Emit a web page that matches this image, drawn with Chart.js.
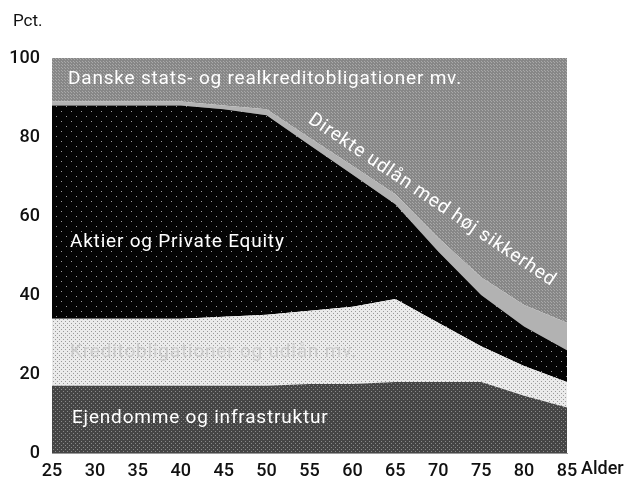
<!DOCTYPE html>
<html>
<head>
<meta charset="utf-8">
<script src="https://cdn.jsdelivr.net/npm/chart.js@4"></script>
<style>
  html, body { margin: 0; padding: 0; background: #fff; }
  #wrap { width: 641px; height: 485px; }
</style>
</head>
<body>
<div id="wrap"><canvas id="pensionChart"></canvas></div>
<script>
// Alder (x-akse)
const ages = ['25', '30', '35', '40', '45', '50', '55', '60', '65', '70', '75', '80', '85'];

// Andele i pct., nedefra og op
const ejendomme = [17, 17, 17, 17, 17, 17, 17.5, 17.5, 18, 18, 18, 14.5, 11.5];
const kredit    = [17, 17, 17, 17, 17.5, 18, 18.5, 19.5, 21, 15, 9, 7.5, 6.5];
const aktier    = [54, 54, 54, 54, 52.5, 50.5, 42, 33.5, 24, 18, 13, 10, 8];
const direkte   = [1, 1, 1, 1, 1, 1.5, 1.8, 2.2, 2.5, 3.5, 4.5, 5.5, 7];
const danske    = [11, 11, 11, 11, 12, 13, 20.2, 27.3, 34.5, 45.5, 55.5, 62.5, 67];

const yTicks = [0, 20, 40, 60, 80, 100];

const FONT = "Roboto, 'DejaVu Sans', sans-serif";

// lille prik-mønster til fladerne (efterligner rasteret i originalen)
function dotPattern(base, dot, step) {
    const c = document.createElement('canvas');
    c.width = step; c.height = step;
    const g = c.getContext('2d');
    g.fillStyle = base;
    g.fillRect(0, 0, step, step);
    g.fillStyle = dot;
    g.fillRect(1, 1, 1, 1);
    g.fillRect(Math.floor(step / 2) + 1, Math.floor(step / 2) + 1, 1, 1);
    return g.createPattern(c, 'repeat');
}

// Tekster inde i figuren
const labelPlugin = {
    id: 'areaLabels',
    afterDatasetsDraw(chart) {
        const ctx = chart.ctx;
        const area = chart.chartArea;
        ctx.save();
        ctx.font = '19px ' + FONT;
        ctx.letterSpacing = '0.8px';
        ctx.textBaseline = 'middle';
        ctx.textAlign = 'left';

        ctx.fillStyle = '#ffffff';
        ctx.fillText('Danske stats- og realkreditobligationer mv.', area.left + 16, 79);
        ctx.fillText('Aktier og Private Equity', area.left + 18, 242);
        ctx.fillText('Ejendomme og infrastruktur', area.left + 20, 418);

        ctx.fillStyle = '#cdcdcd';
        ctx.fillText('Kreditobligationer og udlån mv.', area.left + 18, 352);

        ctx.save();
        ctx.fillStyle = '#ffffff';
        ctx.translate(310, 118);
        ctx.rotate(34 * Math.PI / 180);
        ctx.fillText('Direkte udlån med høj sikkerhed', 0, 0);
        ctx.restore();

        ctx.restore();
    },
    afterDraw(chart) {
        const ctx = chart.ctx;
        const area = chart.chartArea;
        ctx.save();
        ctx.fillStyle = '#111';
        ctx.font = '17px ' + FONT;
        ctx.textBaseline = 'middle';
        ctx.textAlign = 'left';
        ctx.fillText('Pct.', 13, 22);
        ctx.font = '500 18px ' + FONT;
        ctx.fillText('Alder', area.right + 14, 469);
        ctx.restore();
    }
};

const ctx = document.getElementById('pensionChart').getContext('2d');
const pensionChart = new Chart(ctx, {
    type: 'line',
    data: {
        labels: ages,
        datasets: [{
            label: 'Ejendomme og infrastruktur',
            data: ejendomme,
            backgroundColor: dotPattern('#454545', '#8a8a8a', 4),
            fill: 'origin'
        }, {
            label: 'Kreditobligationer og udlån mv.',
            data: kredit,
            backgroundColor: dotPattern('#ebebeb', '#9a9a9a', 4),
            fill: '-1'
        }, {
            label: 'Aktier og Private Equity',
            data: aktier,
            backgroundColor: dotPattern('#040404', '#9a9a9a', 10),
            fill: '-1'
        }, {
            label: 'Direkte udlån med høj sikkerhed',
            data: direkte,
            backgroundColor: '#b2b2b2',
            fill: '-1'
        }, {
            label: 'Danske stats- og realkreditobligationer mv.',
            data: danske,
            backgroundColor: dotPattern('#878787', '#a8a8a8', 3),
            fill: '-1'
        }]
    },
    options: {
        responsive: true,
        maintainAspectRatio: false,
        animation: false,
        layout: {
            padding: { top: 58, right: 74, bottom: 0, left: 0 }
        },
        elements: {
            point: { radius: 0 },
            line: { borderWidth: 0, tension: 0 }
        },
        plugins: {
            legend: { display: false },
            tooltip: { enabled: false }
        },
        scales: {
            x: {
                offset: false,
                grid: { display: false, drawTicks: false },
                border: { display: true, color: '#999', width: 1 },
                ticks: {
                    color: '#111',
                    font: { family: FONT, size: 18, weight: '500' },
                    maxRotation: 0,
                    autoSkip: false,
                    padding: 8
                },
                afterFit(scale) { scale.height = 32; }
            },
            y: {
                stacked: true,
                min: 0,
                max: 100,
                grid: { display: false, drawTicks: false },
                border: { display: false },
                afterBuildTicks(scale) {
                    scale.ticks = yTicks.map(v => ({ value: v }));
                },
                ticks: {
                    color: '#111',
                    font: { family: FONT, size: 18, weight: '500' },
                    padding: 12
                },
                afterFit(scale) { scale.width = 52; }
            }
        }
    },
    plugins: [labelPlugin]
});
</script>
</body>
</html>
